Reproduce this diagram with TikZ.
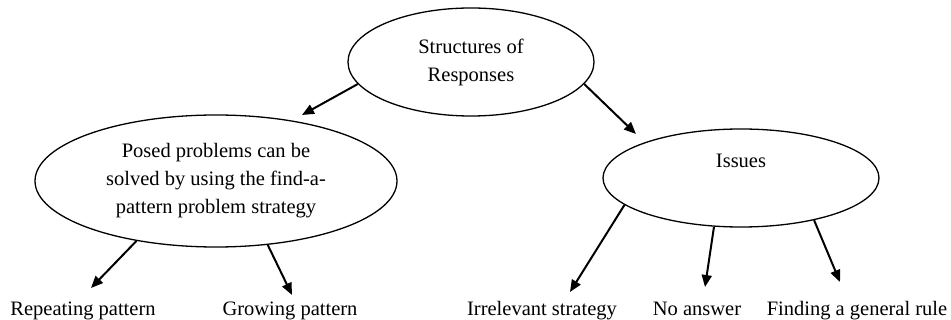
\documentclass[tikz,border=0pt]{standalone}
\usepackage{fontspec}
\setmainfont{Liberation Serif}
\usetikzlibrary{arrows.meta,shapes.geometric}
\begin{document}
\begin{tikzpicture}[x=1pt,y=-1pt,
  bubble/.style={ellipse,draw,line width=1.3pt,inner sep=0pt,align=center,
    font=\fontsize{20.5}{28}\selectfont},
  leaf/.style={inner sep=0pt,font=\fontsize{20.5}{28}\selectfont},
  arr/.style={line width=2pt,-{Triangle[length=12pt,width=10pt]}}]
\useasboundingbox (0,0) rectangle (951,320);
\node[bubble,minimum width=246pt,minimum height=108pt] (top) at (471,62) {Structures of\\Responses};
\node[bubble,minimum width=362pt,minimum height=132pt] (pp) at (216,181) {Posed problems can be\\solved by using the find-a-\\pattern problem strategy};
\node[bubble,minimum width=276pt,minimum height=98pt,label={[leaf,yshift=17pt]center:Issues}] (iss) at (741,178) {};
\node[leaf,anchor=base] (rep) at (83,316) {Repeating pattern};
\node[leaf,anchor=base] (gro) at (290,316) {Growing pattern};
\node[leaf,anchor=base] (irr) at (542,316) {Irrelevant strategy};
\node[leaf,anchor=base] (noa) at (697,316) {No answer};
\node[leaf,anchor=base] (fin) at (857,316) {Finding a general rule};
\coordinate (tpp) at (302,115);
\coordinate (tiss) at (636,134);
\coordinate (trep) at (91,288);
\coordinate (tgro) at (292,295);
\coordinate (tirr) at (570,292);
\coordinate (tnoa) at (705,287);
\coordinate (tfin) at (840,282);
\draw[arr] (top.191.7) -- (tpp);
\draw[arr] (top.349.7) -- (tiss);
\draw[arr] (pp.217.7) -- (trep);
\draw[arr] (pp.309.7) -- (tgro);
\draw[arr] (iss.193.2) -- (tirr);
\draw[arr] (iss.241.6) -- (tnoa);
\draw[arr] (iss.330) -- (tfin);
\end{tikzpicture}
\end{document}
